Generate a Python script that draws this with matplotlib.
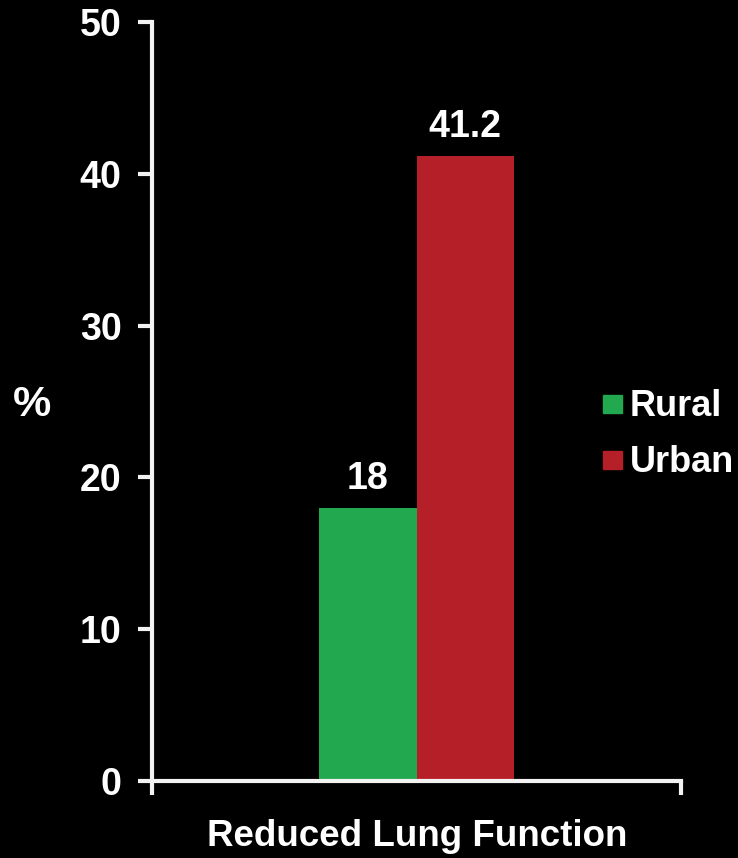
import matplotlib
matplotlib.use("Agg")
import matplotlib.pyplot as plt
from matplotlib.patches import Rectangle

categories = ["Reduced Lung Function"]
series_names = ["Rural", "Urban"]
values = [18, 41.2]
value_labels = ["18", "41.2"]
colors = ["#22A84F", "#B52028"]
yticks = [0, 10, 20, 30, 40, 50]

plt.rcParams["font.family"] = ["Liberation Sans", "DejaVu Sans"]
plt.rcParams["font.weight"] = "bold"

fig = plt.figure(figsize=(7.38, 8.58), dpi=100, facecolor="black")
W, H = 738, 858
x0, x1, y0, y1 = 152, 681, 781, 22
ax = fig.add_axes([x0 / W, 1 - y0 / H, (x1 - x0) / W, (y0 - y1) / H])
ax.set_facecolor("black")

bar_w = 0.1834
center = 0.5
for i, (v, c, lab) in enumerate(zip(values, colors, value_labels)):
    left = center - bar_w + i * bar_w
    ax.bar(left, v, width=bar_w, align="edge", color=c, zorder=2)
    ax.text(left + bar_w / 2, v + 0.7, lab, ha="center", va="bottom",
            color="white", fontsize=27, fontweight="bold")

ax.set_xlim(0, 1)
ax.set_ylim(0, 50)
ax.set_yticks(yticks)
ax.set_yticklabels([str(t) for t in yticks])
ax.set_xticks([0, 1])
ax.set_xticklabels(["", ""])
ax.tick_params(axis="y", colors="#F2F2F2", labelcolor="white", labelsize=27,
               length=10, width=3, direction="out", pad=12)
ax.tick_params(axis="x", colors="#F2F2F2", length=10, width=3, direction="out")
for s in ["top", "right"]:
    ax.spines[s].set_visible(False)
for s in ["left", "bottom"]:
    ax.spines[s].set_color("#F2F2F2")
    ax.spines[s].set_linewidth(3)
for lab in ax.get_yticklabels():
    lab.set_fontweight("bold")

fig.text(417 / W, 1 - 836 / H, categories[0], ha="center", va="center",
         color="white", fontsize=26.5, fontweight="bold")
fig.text(32 / W, 1 - 405 / H, "%", ha="center", va="center",
         color="white", fontsize=31, fontweight="bold")

# legend
for name, c, yc in zip(series_names, colors, [404, 460]):
    fig.patches.append(Rectangle((603 / W, 1 - (yc + 9) / H), 19 / W, 18 / H,
                                 transform=fig.transFigure, color=c))
    fig.text(630 / W, 1 - (yc + 2) / H, name, ha="left", va="center",
             color="white", fontsize=26, fontweight="bold")

fig.savefig("out.png", dpi=100, facecolor="black")
